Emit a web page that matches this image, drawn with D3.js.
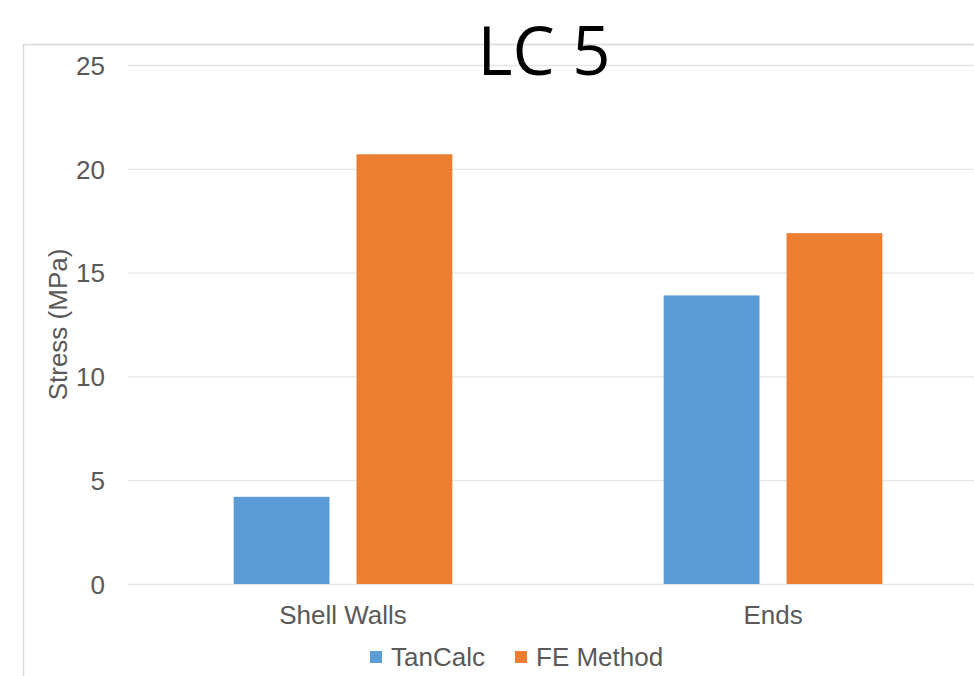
<!DOCTYPE html>
<html>
<head>
<meta charset="utf-8">
<script src="https://cdn.jsdelivr.net/npm/d3@7"></script>
<style>
  html, body { margin: 0; padding: 0; background: #fff; }
  svg { display: block; }
</style>
</head>
<body>
<svg id="chart" width="974" height="676"></svg>
<script>
// Stress comparison for load case 5
const categories = ["Shell Walls", "Ends"];
const seriesNames = ["TanCalc", "FE Method"];
const tanCalc = [4.2, 13.9];
const feMethod = [20.7, 16.9];
const yTicks = [0, 5, 10, 15, 20, 25];
const colors = ["#5b9bd5", "#ed7d31"];

const svg = d3.select("#chart");
const font = "'Liberation Sans', Arial, sans-serif";
const textGray = "#595959";
const fs = 26;

// chart area frame
svg.append("rect")
  .attr("x", 23.5).attr("y", 44.5)
  .attr("width", 1000).attr("height", 700)
  .attr("fill", "#fff").attr("stroke", "#d9d9d9").attr("stroke-width", 1.5);

const plot = { left: 128, right: 988, top: 65, bottom: 584 };

const x = d3.scaleBand().domain(categories).range([plot.left, plot.right]);
const xs = d3.scaleBand().domain(seriesNames).range([0, x.bandwidth()])
  .paddingInner(0.22).paddingOuter(0.86);
const y = d3.scaleLinear().domain([0, 25]).range([plot.bottom, plot.top]);

// gridlines
svg.append("g").selectAll("line").data(yTicks).join("line")
  .attr("x1", plot.left).attr("x2", plot.right)
  .attr("y1", d => y(d) + 0.5).attr("y2", d => y(d) + 0.5)
  .attr("stroke", "#e6e6e6").attr("stroke-width", 1.3);

// y axis tick labels
const yAxis = d3.axisLeft(y).tickValues(yTicks).tickSize(0).tickPadding(0);
const gy = svg.append("g").attr("transform", `translate(${plot.left - 23},0)`).call(yAxis);
gy.select(".domain").remove();
gy.selectAll("text")
  .attr("font-family", font).attr("font-size", fs).attr("fill", textGray)
  .attr("dy", "0.36em");

// bars
const rows = categories.map((c, i) => ({ cat: c, values: [tanCalc[i], feMethod[i]] }));
const groups = svg.append("g").selectAll("g").data(rows).join("g")
  .attr("transform", d => `translate(${x(d.cat)},0)`);
groups.selectAll("rect")
  .data(d => d.values.map((v, j) => ({ name: seriesNames[j], value: v, j })))
  .join("rect")
  .attr("x", d => xs(d.name))
  .attr("width", xs.bandwidth())
  .attr("y", d => y(d.value))
  .attr("height", d => y(0) - y(d.value))
  .attr("fill", d => colors[d.j]);

// category labels
const xAxis = d3.axisBottom(x).tickSize(0).tickPadding(0);
const gx = svg.append("g").attr("transform", `translate(0,${plot.bottom + 31})`).call(xAxis);
gx.select(".domain").remove();
gx.selectAll("text")
  .attr("font-family", font).attr("font-size", fs).attr("fill", textGray)
  .attr("dy", "0.36em");

// y axis title
svg.append("text")
  .attr("transform", `translate(67,${(plot.top + plot.bottom) / 2}) rotate(-90)`)
  .attr("text-anchor", "middle")
  .attr("font-family", font).attr("font-size", fs).attr("fill", textGray)
  .text("Stress (MPa)");

// legend
const legendItems = [
  { name: seriesNames[0], color: colors[0], x: 370 },
  { name: seriesNames[1], color: colors[1], x: 515 }
];
const lg = svg.append("g").selectAll("g").data(legendItems).join("g")
  .attr("transform", d => `translate(${d.x},657)`);
lg.append("rect").attr("x", 0).attr("y", -6).attr("width", 12).attr("height", 12)
  .attr("fill", d => d.color);
lg.append("text").attr("x", 21).attr("dy", "0.36em")
  .attr("font-family", font).attr("font-size", fs).attr("fill", textGray)
  .text(d => d.name);

// title
svg.append("text")
  .attr("x", 544).attr("y", 75)
  .attr("text-anchor", "middle")
  .attr("font-family", "'Open Sans', 'Noto Sans', sans-serif").attr("font-size", 67)
  .attr("fill", "#000")
  .text("LC 5");
</script>
</body>
</html>
